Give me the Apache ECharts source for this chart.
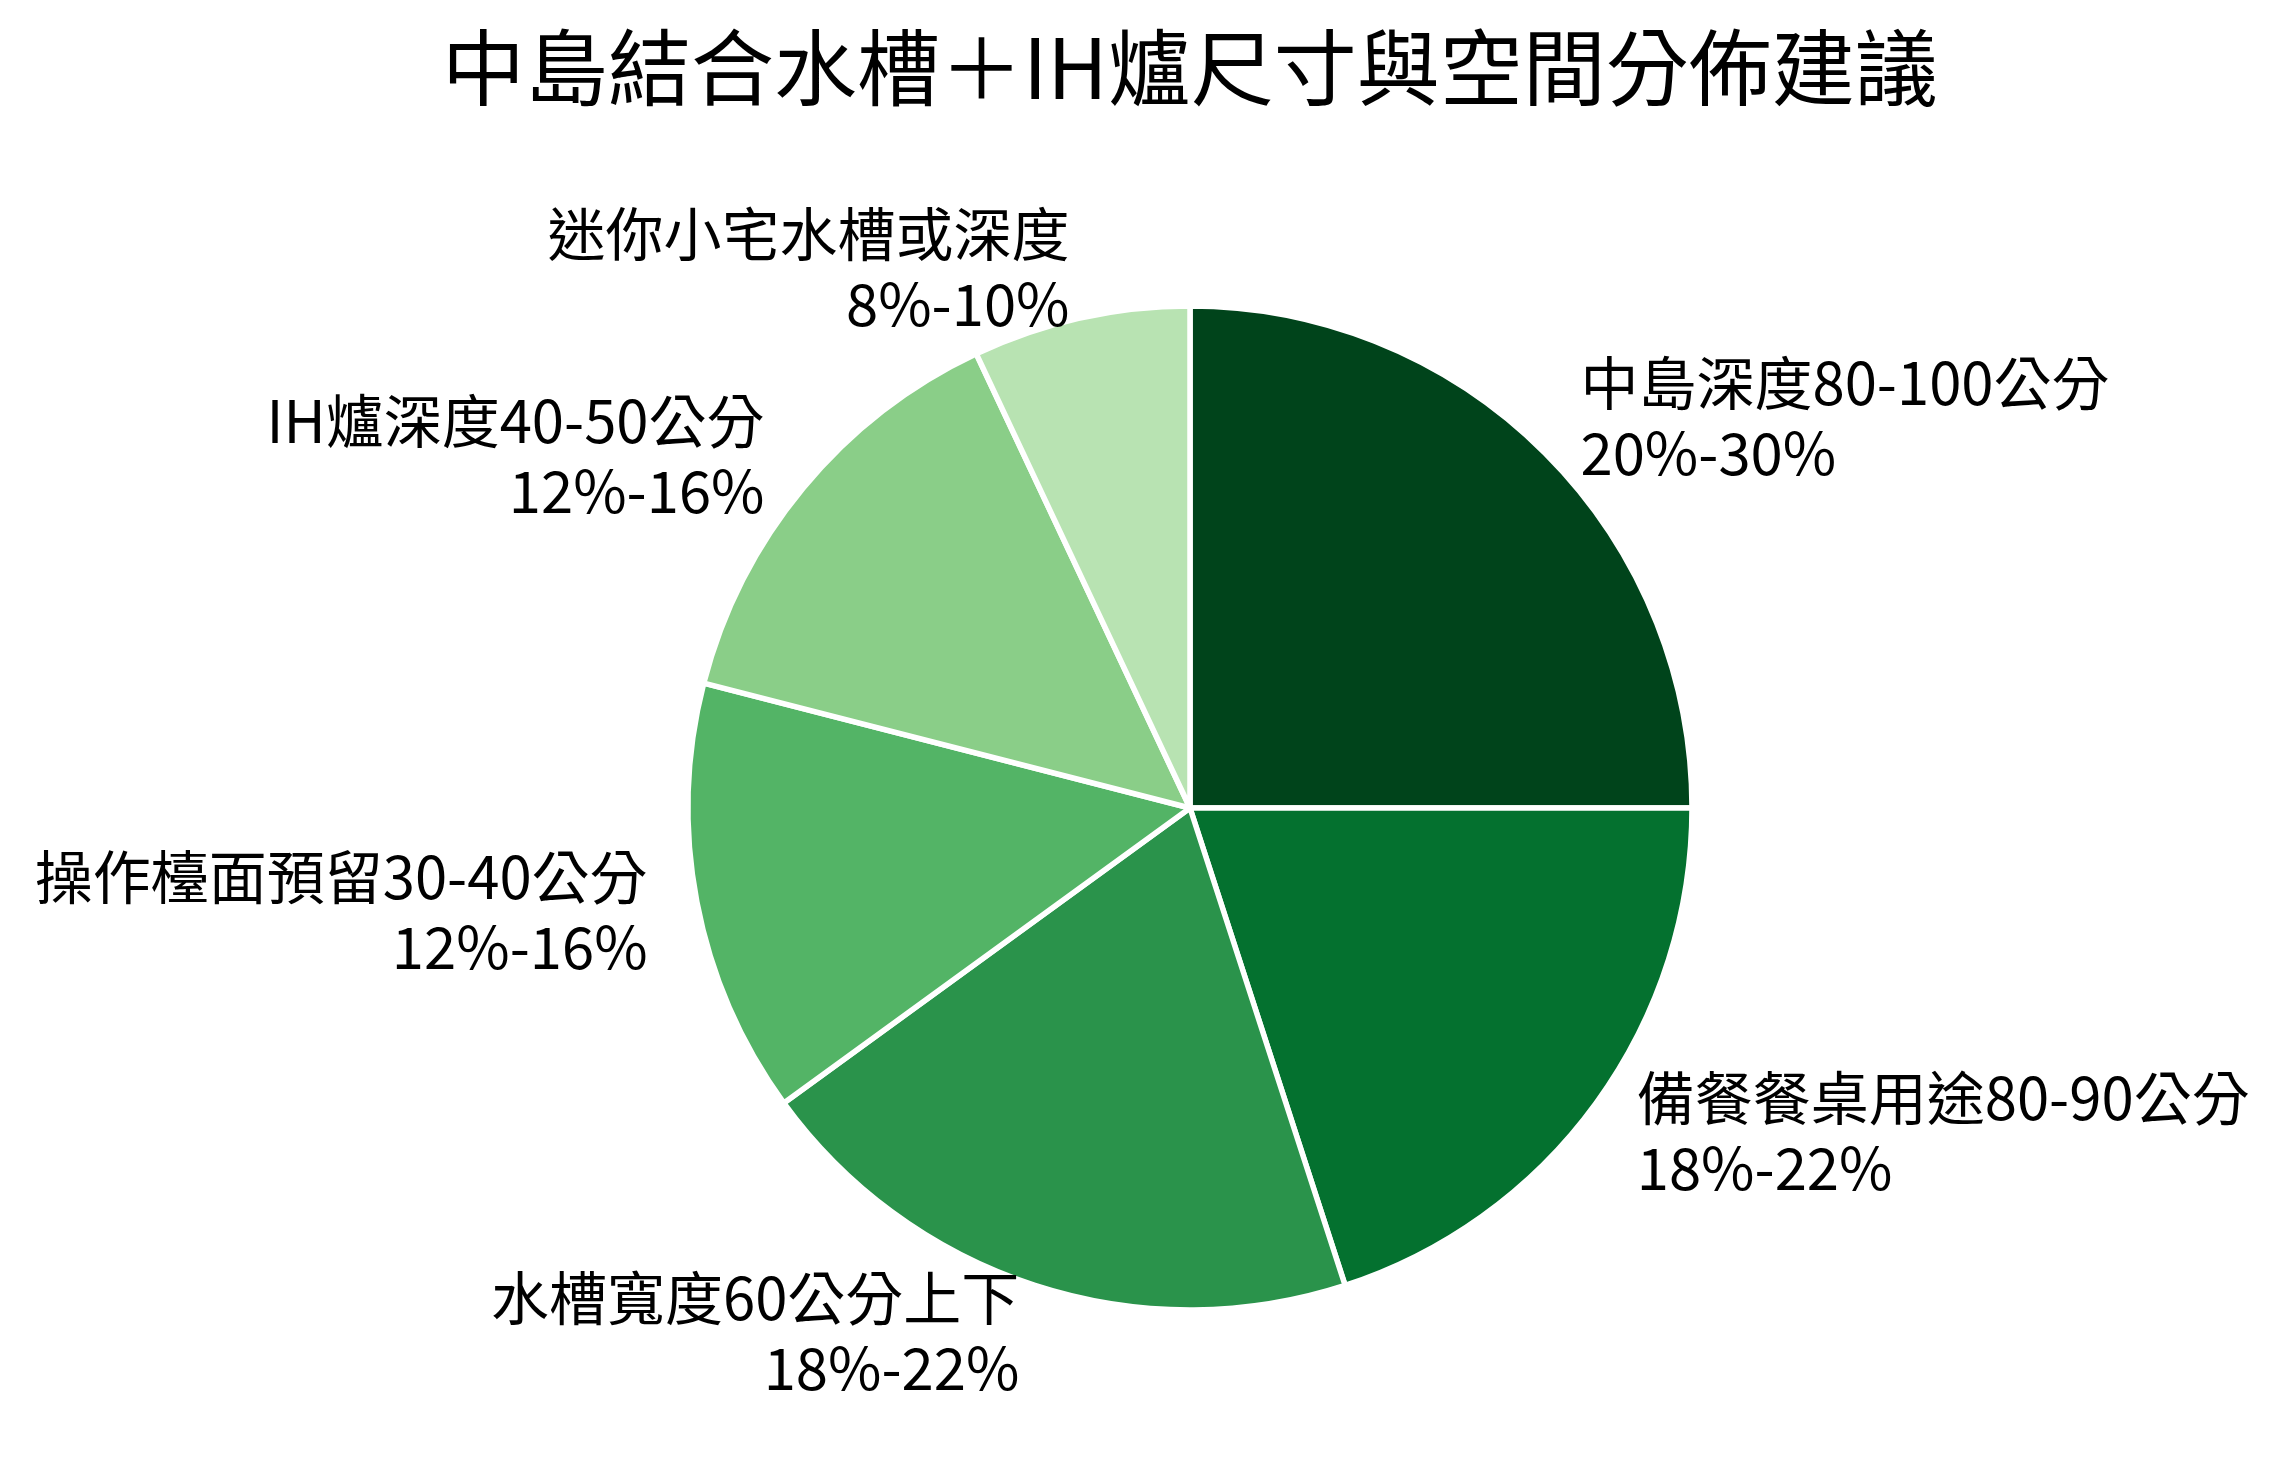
<!DOCTYPE html>
<html>
<head>
<meta charset="utf-8">
<style>
html,body{margin:0;padding:0;background:#fff;}
#chart{width:2284px;height:1468px;}
</style>
<script src="https://cdn.jsdelivr.net/npm/echarts@6/dist/echarts.min.js"></script>
</head>
<body>
<div id="chart"></div>
<script>
const titleText = '中島結合水槽＋IH爐尺寸與空間分佈建議';
const categories = ['中島深度80-100公分', '備餐餐桌用途80-90公分', '水槽寬度60公分上下', '操作檯面預留30-40公分', 'IH爐深度40-50公分', '迷你小宅水槽或深度'];
const ranges = ['20%-30%', '18%-22%', '18%-22%', '12%-16%', '12%-16%', '8%-10%'];
const values = [25, 20, 20, 14, 14, 7];
const colors = ['#00441b', '#04712f', '#2a934b', '#53b466', '#8ace88', '#b8e3b2'];

const FONT = '"Noto Sans CJK TC", "Noto Sans CJK SC", "Noto Sans", sans-serif';
const R = 502;

const chart = echarts.init(document.getElementById('chart'), null, {renderer: 'canvas'});
chart.setOption({
  animation: false,
  backgroundColor: '#ffffff',
  title: {
    text: titleText,
    left: 437,
    top: 21,
    textStyle: {fontFamily: FONT, fontSize: 83, fontWeight: 'normal', color: '#000'}
  },
  series: [{
    type: 'pie',
    center: [1190, 808],
    radius: [0, R],
    startAngle: 90,
    clockwise: true,
    avoidLabelOverlap: false,
    emphasis: {disabled: true},
    itemStyle: {borderColor: '#ffffff', borderWidth: 5.5},
    label: {
      show: true,
      position: 'outside',
      fontFamily: FONT,
      fontSize: 58,
      lineHeight: 70,
      color: '#000',
      bleedMargin: 0,
      distanceToLabelLine: 0,
      overflow: 'none',
      padding: [0, 0, 8, 0],
      formatter: function (p) { return p.name + '\n' + ranges[p.dataIndex]; }
    },
    labelLine: {show: false, length: R * 0.1, length2: 0},
    data: categories.map((c, i) => ({name: c, value: values[i], itemStyle: {color: colors[i]}}))
  }]
});
</script>
</body>
</html>
